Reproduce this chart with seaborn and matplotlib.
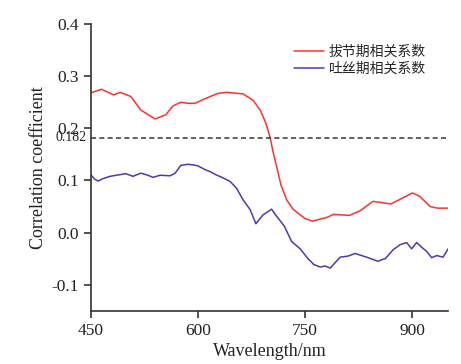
import pandas as pd
import matplotlib
matplotlib.use("Agg")
import matplotlib.pyplot as plt
import matplotlib.transforms as mtransforms
import seaborn as sns

# values
jointing_wl = [450, 465, 482, 491, 506, 520, 540, 555, 565, 576, 586, 596, 610, 628,
               640, 663, 677, 687, 695, 701, 705, 710, 716, 724, 733, 743, 750, 760,
               780, 790, 812, 827, 845, 870, 880, 900, 910, 925, 935, 950]
jointing_r = [0.268, 0.275, 0.264, 0.269, 0.261, 0.235, 0.218, 0.226, 0.243, 0.250,
              0.248, 0.248, 0.257, 0.267, 0.269, 0.266, 0.254, 0.235, 0.210, 0.182,
              0.155, 0.127, 0.092, 0.063, 0.045, 0.034, 0.027, 0.022, 0.029, 0.035,
              0.033, 0.042, 0.060, 0.055, 0.062, 0.076, 0.070, 0.050, 0.047, 0.047]

silking_wl = [450, 455, 460, 468, 477, 490, 499, 509, 520, 530, 537, 547, 561, 568,
              576, 586, 593, 600, 611, 617, 625, 635, 645, 654, 663, 673, 681, 691,
              703, 708, 712, 721, 731, 743, 754, 762, 771, 778, 785, 799, 810, 820,
              838, 852, 857, 862, 873, 883, 892, 899, 906, 913, 920, 927, 934, 943, 950]
silking_r = [0.111, 0.103, 0.099, 0.104, 0.108, 0.111, 0.113, 0.108, 0.114, 0.110,
             0.106, 0.110, 0.109, 0.114, 0.129, 0.131, 0.130, 0.128, 0.120, 0.117,
             0.111, 0.105, 0.098, 0.085, 0.063, 0.044, 0.017, 0.034, 0.045, 0.035,
             0.028, 0.012, -0.017, -0.031, -0.050, -0.061, -0.066, -0.064, -0.068,
             -0.047, -0.045, -0.040, -0.048, -0.055, -0.052, -0.050, -0.033, -0.023,
             -0.019, -0.031, -0.019, -0.028, -0.036, -0.048, -0.044, -0.047, -0.031]

threshold = 0.182
series_names = ["拔节期相关系数", "吐丝期相关系数"]
x_ticks = [450, 600, 750, 900]
y_ticks = [-0.1, 0.0, 0.1, 0.2, 0.3, 0.4]

df = pd.concat([
    pd.DataFrame({"wl": jointing_wl, "r": jointing_r, "stage": series_names[0]}),
    pd.DataFrame({"wl": silking_wl, "r": silking_r, "stage": series_names[1]}),
])

sns.set_theme(style="ticks")
plt.rcParams["font.family"] = ["Liberation Serif", "Noto Sans CJK SC", "DejaVu Sans"]
plt.rcParams["axes.edgecolor"] = "#333333"

fig = plt.figure(figsize=(4.61, 3.64), dpi=100)
ax = fig.add_axes([0.197, 0.146, 0.775, 0.788])

sns.lineplot(data=df, x="wl", y="r", hue="stage", sort=False,
             palette=["#ff3030", "#4a3cab"], linewidth=1.1, ax=ax)
ax.axhline(threshold, color="#444444", linestyle=(0, (3, 2)), linewidth=1.2)

ax.set_xlim(450, 950)
ax.set_ylim(-0.15, 0.4)
ax.set_xticks(x_ticks)
ax.set_yticks(y_ticks)
ax.set_yticklabels([f"{v:.1f}" for v in y_ticks])
ax.tick_params(direction="out", length=5, width=1.1, colors="#222222", labelsize=12.5)
for side in ["left", "bottom"]:
    ax.spines[side].set_linewidth(1.2)
sns.despine(ax=ax)

# threshold label sits just left of the axis, as in the source figure
trans = mtransforms.blended_transform_factory(ax.transAxes, ax.transData)
ax.text(-0.012, threshold, f"{threshold}", transform=trans, ha="right", va="center",
        fontsize=10, color="#222222")

ax.set_xlabel("Wavelength/nm", fontsize=13, color="#222222", labelpad=3)
ax.set_ylabel("Correlation coefficient", fontsize=13, color="#222222")
ax.yaxis.set_label_coords(-0.122, 0.5)

leg = ax.legend(loc="upper left", bbox_to_anchor=(0.535, 0.97), frameon=False,
                fontsize=10, handlelength=2.1, handletextpad=0.35, labelspacing=0.2,
                title=None)
for t in leg.get_texts():
    t.set_family(["Noto Sans CJK SC", "DejaVu Sans"])

fig.savefig("out.png", dpi=100)
plt.close(fig)
